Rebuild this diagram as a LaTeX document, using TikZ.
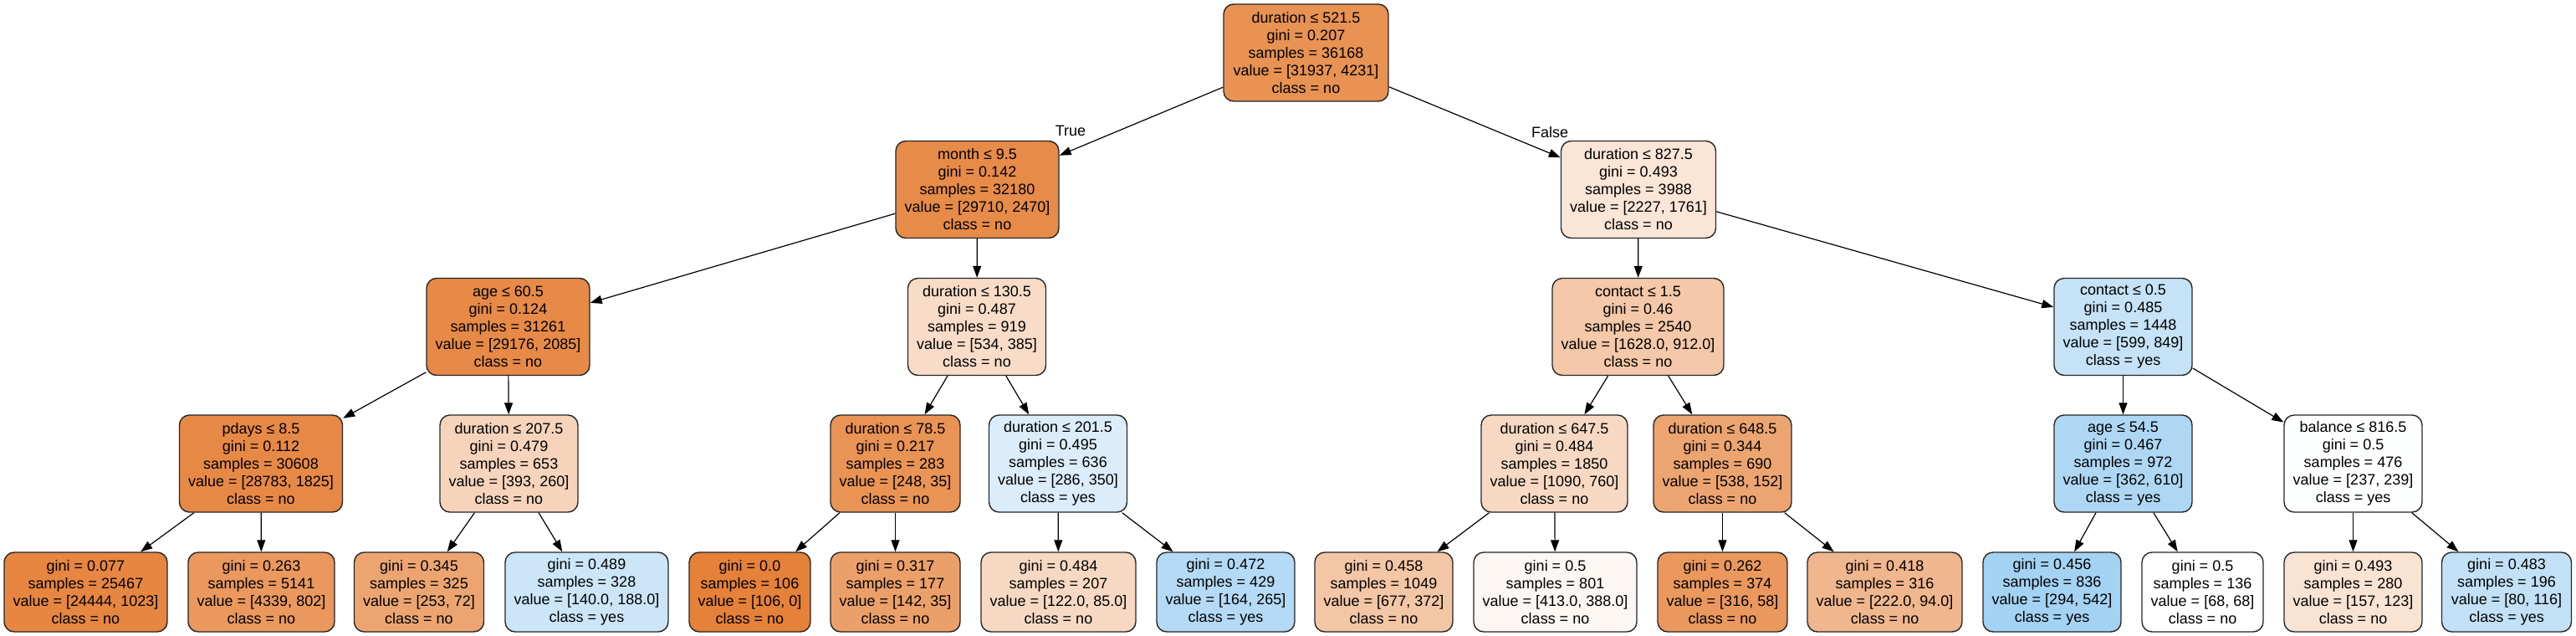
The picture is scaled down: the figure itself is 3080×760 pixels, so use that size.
\documentclass[tikz,border=0pt]{standalone}
\usepackage{fontspec}
\setmainfont{Liberation Sans}
\usetikzlibrary{arrows.meta}
\definecolor{ocol}{RGB}{229,129,57}
\definecolor{bcol}{RGB}{57,157,229}
\tikzset{
  tn/.style={draw=black!85, line width=0.7pt, rounded corners=6pt, align=center,
    inner sep=0pt, minimum height=58pt, font=\fontsize{9}{10.5}\selectfont},
  lf/.style={tn, minimum height=47.5pt},
  w/.style={minimum width=#1*0.5pt},
  ob/.style={fill=ocol!#1!white},
  bb/.style={fill=bcol!#1!white},
  edge/.style={draw=black, line width=0.6pt, -{Triangle[length=7pt,width=5pt]}},
  lab/.style={font=\fontsize{9}{10.5}\selectfont, inner sep=0pt}
}
\begin{document}
\begin{tikzpicture}[x=0.5pt,y=-0.5pt]
\path[fill=white,use as bounding box] (0,0) rectangle (3080,760);
% level 0
\node[tn,w=197,ob=86.75] (root) at (1561.5,63) {duration ≤ 521.5\\gini = 0.207\\samples = 36168\\value = [31937, 4231]\\class = no};
% level 1
\node[tn,w=195,ob=91.69] (month) at (1168.5,226.5) {month ≤ 9.5\\gini = 0.142\\samples = 32180\\value = [29710, 2470]\\class = no};
\node[tn,w=185,ob=20.93] (d827) at (1959,226.5) {duration ≤ 827.5\\gini = 0.493\\samples = 3988\\value = [2227, 1761]\\class = no};
% level 2
\node[tn,w=195,ob=92.85] (age60) at (607.5,390.5) {age ≤ 60.5\\gini = 0.124\\samples = 31261\\value = [29176, 2085]\\class = no};
\node[tn,w=165,ob=27.90] (d130) at (1168,390.5) {duration ≤ 130.5\\gini = 0.487\\samples = 919\\value = [534, 385]\\class = no};
\node[tn,w=205,ob=43.98] (c15) at (1958.5,390.5) {contact ≤ 1.5\\gini = 0.46\\samples = 2540\\value = [1628.0, 912.0]\\class = no};
\node[tn,w=165,bb=29.45] (c05) at (2538.5,390.5) {contact ≤ 0.5\\gini = 0.485\\samples = 1448\\value = [599, 849]\\class = yes};
% level 3
\node[tn,w=195,ob=93.66] (pdays) at (312,554) {pdays ≤ 8.5\\gini = 0.112\\samples = 30608\\value = [28783, 1825]\\class = no};
\node[tn,w=165,ob=33.84] (d207) at (608.5,554) {duration ≤ 207.5\\gini = 0.479\\samples = 653\\value = [393, 260]\\class = no};
\node[tn,w=155,ob=85.89] (d78) at (1070.5,554) {duration ≤ 78.5\\gini = 0.217\\samples = 283\\value = [248, 35]\\class = no};
\node[tn,w=165,bb=18.29] (d201) at (1265,554) {duration ≤ 201.5\\gini = 0.495\\samples = 636\\value = [286, 350]\\class = yes};
\node[tn,w=175,ob=30.28] (d647) at (1858.5,554) {duration ≤ 647.5\\gini = 0.484\\samples = 1850\\value = [1090, 760]\\class = no};
\node[tn,w=165,ob=71.75] (d648) at (2059.5,554) {duration ≤ 648.5\\gini = 0.344\\samples = 690\\value = [538, 152]\\class = no};
\node[tn,w=165,bb=40.66] (a54) at (2538.5,554) {age ≤ 54.5\\gini = 0.467\\samples = 972\\value = [362, 610]\\class = yes};
\node[tn,w=165,bb=0.84] (b816) at (2813.5,554) {balance ≤ 816.5\\gini = 0.5\\samples = 476\\value = [237, 239]\\class = yes};
% level 4 (leaves)
\node[lf,w=195,ob=95.81] (l1) at (102.5,707.5) {gini = 0.077\\samples = 25467\\value = [24444, 1023]\\class = no};
\node[lf,w=175,ob=81.52] (l2) at (312.5,707.5) {gini = 0.263\\samples = 5141\\value = [4339, 802]\\class = no};
\node[lf,w=155,ob=71.54] (l3) at (501,707.5) {gini = 0.345\\samples = 325\\value = [253, 72]\\class = no};
\node[lf,w=195,bb=25.53] (l4) at (701.5,707.5) {gini = 0.489\\samples = 328\\value = [140.0, 188.0]\\class = yes};
\node[lf,w=145,ob=100] (l5) at (896.5,707.5) {gini = 0.0\\samples = 106\\value = [106, 0]\\class = no};
\node[lf,w=155,ob=75.35] (l6) at (1070.5,707.5) {gini = 0.317\\samples = 177\\value = [142, 35]\\class = no};
\node[lf,w=185,ob=30.33] (l7) at (1265.5,707.5) {gini = 0.484\\samples = 207\\value = [122.0, 85.0]\\class = no};
\node[lf,w=165,bb=38.11] (l8) at (1465.5,707.5) {gini = 0.472\\samples = 429\\value = [164, 265]\\class = yes};
\node[lf,w=165,ob=45.05] (l9) at (1654.5,707.5) {gini = 0.458\\samples = 1049\\value = [677, 372]\\class = no};
\node[lf,w=195,ob=6.05] (l10) at (1859.5,707.5) {gini = 0.5\\samples = 801\\value = [413.0, 388.0]\\class = no};
\node[lf,w=155,ob=81.65] (l11) at (2059.5,707.5) {gini = 0.262\\samples = 374\\value = [316, 58]\\class = no};
\node[lf,w=185,ob=57.66] (l12) at (2253.5,707.5) {gini = 0.418\\samples = 316\\value = [222.0, 94.0]\\class = no};
\node[lf,w=165,bb=45.76] (l13) at (2453.5,707.5) {gini = 0.456\\samples = 836\\value = [294, 542]\\class = yes};
\node[lf,w=145,fill=white] (l14) at (2633.5,707.5) {gini = 0.5\\samples = 136\\value = [68, 68]\\class = no};
\node[lf,w=165,ob=21.66] (l15) at (2813.5,707.5) {gini = 0.493\\samples = 280\\value = [157, 123]\\class = no};
\node[lf,w=155,bb=31.03] (l16) at (2997,707.5) {gini = 0.483\\samples = 196\\value = [80, 116]\\class = yes};
% edge labels
\node[lab] (tlab) at (1280,156) {True};
\node[lab] (flab) at (1853,158) {False};
% edges
\foreach \a/\b in {root/month,root/d827,month/age60,month/d130,d827/c15,d827/c05,
  age60/pdays,age60/d207,d130/d78,d130/d201,c15/d647,c15/d648,c05/a54,c05/b816,
  pdays/l1,pdays/l2,d207/l3,d207/l4,d78/l5,d78/l6,d201/l7,d201/l8,
  d647/l9,d647/l10,d648/l11,d648/l12,a54/l13,a54/l14,b816/l15,b816/l16}
  \draw[edge] (\a) -- (\b);
\end{tikzpicture}
\end{document}
